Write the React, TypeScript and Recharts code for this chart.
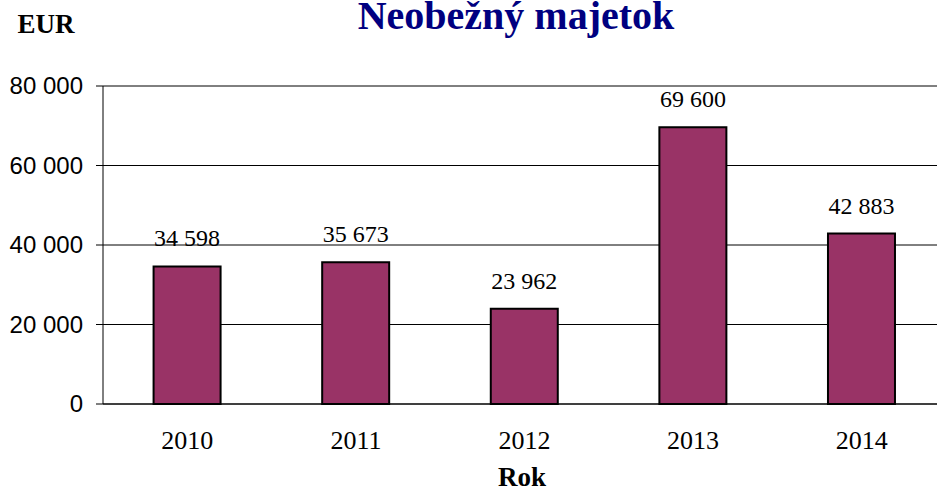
import { BarChart, Bar, XAxis, YAxis, CartesianGrid, LabelList } from "recharts";

const years = ["2010", "2011", "2012", "2013", "2014"];
const values = [34598, 35673, 23962, 69600, 42883];
const yTicks = [0, 20000, 40000, 60000, 80000];
const bandEdges = [0, 1, 2, 3, 4, 5];

const chartData = years.map((year, i) => ({ year, value: values[i] }));

const fmt = (v: number | string) =>
  String(v).replace(/\B(?=(\d{3})+(?!\d))/g, " ");

const serif = "Liberation Serif";
const sans = "Liberation Sans";

// year labels under the bars
const YearTick = (props: any) => {
  const { x, y, payload } = props;
  return (
    <text x={x} y={y + 43} textAnchor="middle" fontFamily={serif} fontSize={26} fill="#000">
      {payload.value}
    </text>
  );
};

const ValueTick = (props: any) => {
  const { x, y, payload } = props;
  return (
    <text x={x - 11} y={y + 8} textAnchor="end" fontFamily={sans} fontSize={24} fill="#000">
      {fmt(payload.value)}
    </text>
  );
};

const BarValue = (props: any) => {
  const { x, y, width, value } = props;
  return (
    <text x={x + width / 2} y={y - 20} textAnchor="middle" fontFamily={serif} fontSize={24} fill="#000">
      {fmt(value)}
    </text>
  );
};

export default function App() {
  return (
    <div style={{ position: "absolute", left: 0, top: 0, width: 937, height: 493, overflow: "hidden", background: "#fff" }}>
      <BarChart
        width={946}
        height={493}
        data={chartData}
        margin={{ top: 86, right: 0, bottom: 0, left: 0 }}
        barCategoryGap="30%"
      >
        <CartesianGrid vertical={false} stroke="#000" xAxisId="cat" />
        <XAxis
          xAxisId="edges"
          type="number"
          domain={[0, 5]}
          ticks={bandEdges}
          tickFormatter={() => ""}
          axisLine={false}
          tickLine={{ stroke: "#000" }}
          tickSize={8}
          height={0}
        />
        <XAxis
          xAxisId="cat"
          dataKey="year"
          height={89}
          tickLine={false}
          tickSize={0}
          axisLine={{ stroke: "#000" }}
          tick={<YearTick />}
        />
        <YAxis
          domain={[0, 80000]}
          ticks={yTicks}
          width={103}
          tickSize={7}
          axisLine={{ stroke: "#000" }}
          tickLine={{ stroke: "#000" }}
          tick={<ValueTick />}
          interval={0}
        />
        <Bar xAxisId="cat" dataKey="value" fill="#993366" stroke="#000" strokeWidth={2} isAnimationActive={false}>
          <LabelList dataKey="value" content={<BarValue />} />
        </Bar>
      </BarChart>
      <svg width={937} height={493} style={{ position: "absolute", left: 0, top: 0, pointerEvents: "none" }}>
        <text x={46} y={33} textAnchor="middle" fontFamily={serif} fontSize={27} fontWeight="bold" fill="#000">
          EUR
        </text>
        <text x={516} y={29} textAnchor="middle" fontFamily={serif} fontSize={40} fontWeight="bold" fill="#000080">
          Neobežný majetok
        </text>
        <text x={522} y={486} textAnchor="middle" fontFamily={serif} fontSize={27} fontWeight="bold" fill="#000">
          Rok
        </text>
      </svg>
    </div>
  );
}
